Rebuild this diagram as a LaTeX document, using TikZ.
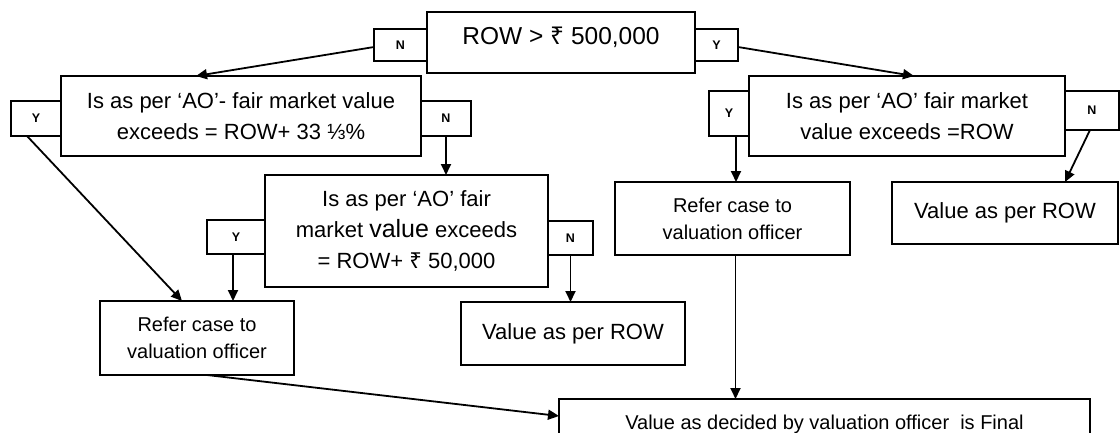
\documentclass[tikz,border=0pt]{standalone}
\usepackage{fontspec}
\setmainfont{Liberation Sans}
\newfontfamily\rupeefont{Noto Sans}
\newcommand{\rupeesign}{{\rupeefont ₹}}
\usepackage{tikz}
\usetikzlibrary{arrows.meta, calc, positioning}

\tikzset{
    box/.style={draw, line width=1.8pt, inner sep=0pt, outer sep=0pt, anchor=north west, align=center},
    tag/.style={box, font=\bfseries\fontsize{12.5}{12.5}\selectfont},
    flow/.style={-{Triangle[length=11pt, width=10pt]}, line width=1.8pt},
    asktxt/.style={font=\fontsize{22}{31}\selectfont},
    refertxt/.style={font=\fontsize{20}{27}\selectfont},
}

\begin{document}
\begin{tikzpicture}[x=1pt, y=-1pt]
    \useasboundingbox (0,0) rectangle (1120,432);

    % Root test
    \node[box, minimum width=268pt, minimum height=61pt, font=\fontsize{24.5}{29}\selectfont] (root) at (427,12)
        {\raisebox{5.5pt}[\height][\depth]{ROW > \rupeesign\ 500,000}};
    \node[tag, minimum width=53pt, minimum height=32pt] (tagN0) at (374,29) {N};
    \node[tag, minimum width=43pt, minimum height=32pt] (tagY0) at (695,29) {Y};

    % Left branch: first check
    \node[box, asktxt, minimum width=360pt, minimum height=80pt] (ask1) at (61,76)
        {Is as per ‘AO’- fair market value\\exceeds = ROW+ 33 ⅓\%};
    \node[tag, minimum width=50pt, minimum height=35pt] (tagY1) at (11,101) {Y};
    \node[tag, minimum width=50pt, minimum height=35pt] (tagN1) at (421,101) {N};

    % Left branch: second check
    \node[box, asktxt, minimum width=283pt, minimum height=112pt] (ask2) at (265,175)
        {Is as per ‘AO’ fair\\market {\fontsize{25}{31}\selectfont value} exceeds\\= ROW+ \rupeesign\ 50,000};
    \node[tag, minimum width=58pt, minimum height=34pt] (tagY2) at (207,220) {Y};
    \node[tag, minimum width=45pt, minimum height=34pt] (tagN2) at (548,221) {N};

    \node[box, refertxt, minimum width=194pt, minimum height=74pt] (refer1) at (100,301)
        {Refer case to\\valuation officer};
    \node[box, asktxt, minimum width=224pt, minimum height=63pt] (rowval1) at (461,302) {Value as per ROW};

    % Right branch
    \node[box, asktxt, minimum width=316pt, minimum height=80pt] (ask3) at (749,76)
        {Is as per ‘AO’ fair market\\value exceeds =ROW};
    \node[tag, minimum width=40pt, minimum height=45pt] (tagY3) at (709,91) {Y};
    \node[tag, minimum width=54pt, minimum height=39pt] (tagN3) at (1065,91) {N};

    \node[box, refertxt, minimum width=235pt, minimum height=73pt] (refer2) at (615,182)
        {Refer case to\\valuation officer};
    \node[box, asktxt, minimum width=226pt, minimum height=62pt] (rowval2) at (892,182) {Value as per ROW};

    % Final outcome
    \node[box, refertxt, minimum width=531pt, minimum height=50pt] (final) at (559,399)
        {Value as decided by valuation officer\ \ is Final};

    % Connectors
    \draw[flow] ([yshift=-2pt]tagN0.west) -- ([xshift=-45pt]ask1.north);
    \draw[flow] ([yshift=-2pt]tagY0.east) -- ([xshift=7pt]ask3.north);
    \draw[flow] ([xshift=-9pt]tagY1.south) -- ([xshift=-15pt]refer1.north);
    \draw[flow] (tagN1.south) -- (tagN1.south |- ask2.north);
    \draw[flow] ([xshift=-3pt]tagY2.south) -- ([xshift=-3pt]tagY2.south |- refer1.north);
    \draw[flow] (tagN2.south) -- (tagN2.south |- rowval1.north);
    \draw[flow] ([xshift=7pt]tagY3.south) -- ([xshift=7pt]tagY3.south |- refer2.north);
    \draw[flow] ([xshift=-2pt]tagN3.south) -- ([xshift=60pt]rowval2.north);
    \draw[flow] ([xshift=10pt]refer1.south) -- ([yshift=8pt]final.west);
    \draw[flow] ([xshift=3pt]refer2.south) -- ([xshift=3pt]refer2.south |- final.north);
\end{tikzpicture}
\end{document}
